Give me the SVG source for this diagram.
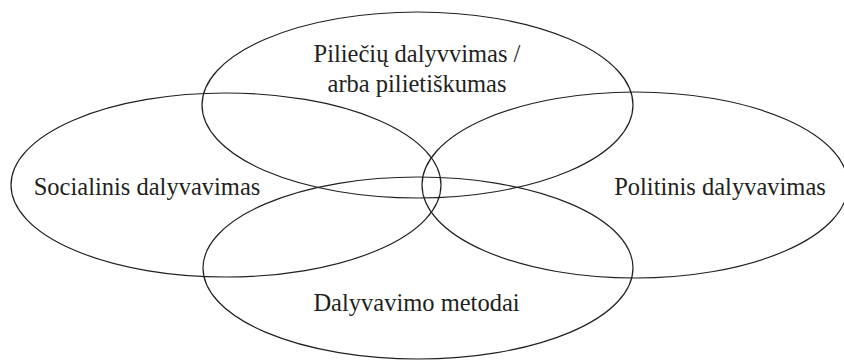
<svg xmlns="http://www.w3.org/2000/svg" width="844" height="361" viewBox="0 0 844 361">
<style>
.e{fill:none;stroke:#231f20;stroke-width:1.2}
.t{font-family:"Liberation Serif","Times New Roman",serif;font-size:24.5px;fill:#231f20;text-anchor:middle}
</style>
<rect width="844" height="361" fill="#fff"/>
<g id="top"><ellipse class="e" cx="417.5" cy="105" rx="215.5" ry="93"/><text class="t" x="417" y="62">Piliečių dalyvvimas /</text><text class="t" x="417" y="92">arba pilietiškumas</text></g>
<g id="left"><ellipse class="e" cx="226" cy="185" rx="215" ry="92"/><text class="t" x="147" y="195">Socialinis dalyvavimas</text></g>
<g id="right"><ellipse class="e" cx="635" cy="185" rx="213" ry="93"/><text class="t" x="720" y="195">Politinis dalyvavimas</text></g>
<g id="bottom"><ellipse class="e" cx="418" cy="268" rx="215" ry="91"/><text class="t" x="416.5" y="311">Dalyvavimo metodai</text></g>
<g id="connectors"/>
</svg>
